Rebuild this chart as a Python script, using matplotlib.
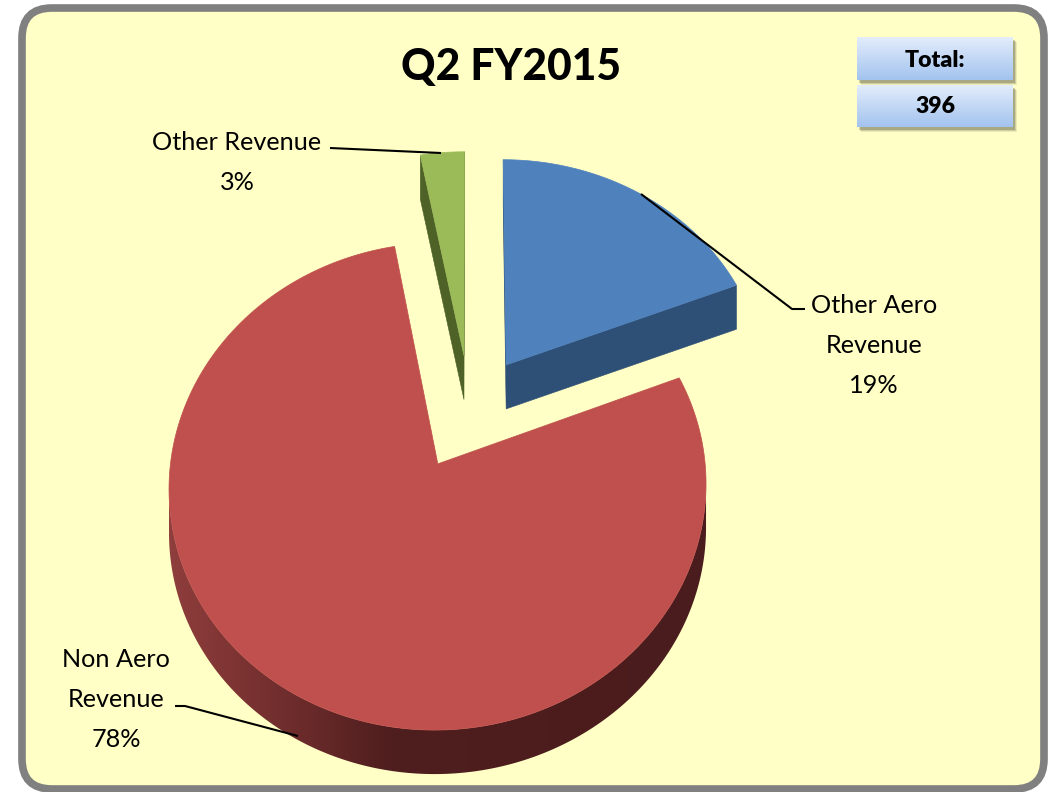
import numpy as np
import matplotlib
matplotlib.use("Agg")
import matplotlib.pyplot as plt
from matplotlib.patches import Polygon, FancyBboxPatch, Rectangle
from matplotlib.colors import to_rgb

# ---------------- data ----------------
categories = ["Other Aero\nRevenue", "Non Aero\nRevenue", "Other Revenue"]
values = [19, 78, 3]          # percent of total, clockwise from 12 o'clock
total_value = 396
title_text = "Q2 FY2015"

# ---------------- figure ----------------
W, H = 1049, 792
fig = plt.figure(figsize=(W / 100, H / 100), dpi=100)
fig.patch.set_facecolor("white")
ax = fig.add_axes([0, 0, 1, 1])
ax.axis("off")

FONT = ["Lato", "DejaVu Sans"]

# background panel with rounded gray border
panel = FancyBboxPatch((22, 8), 1044 - 22, 789 - 8,
                       boxstyle="round,pad=0,rounding_size=30",
                       fc="#FFFFC6", ec="#808080", lw=5.5, zorder=0)
ax.add_patch(panel)

# ---------------- 3D pie (perspective projection) ----------------
CX, CY, S, A, D = 470, 412, 262, 232, 11.0
DEPTH, EXPL = 44, 0.25
top_colors = ["#4F81BD", "#C0504D", "#9BBB59"]
side_colors = ["#2E4F76", "#4C1C1D", "#4E6228"]


def proj(u, v, z=0.0):
    k = 1.0 / (1.0 - v / D)
    return CX + S * u * k, CY + A * v * k + z


fr = np.array(values, dtype=float) / np.sum(values)
bounds = np.concatenate([[0], np.cumsum(fr)]) * 2 * np.pi

slices = []
for i in range(len(values)):
    ts, te = bounds[i], bounds[i + 1]
    mid = (ts + te) / 2
    u0, v0 = EXPL * np.sin(mid), -EXPL * np.cos(mid)
    slices.append((v0, i, ts, te, u0))

slices.sort()
for v0, i, ts, te, u0 in slices:
    n = max(int((te - ts) / (2 * np.pi) * 720), 6)
    th = np.linspace(ts, te, n)
    apex = proj(u0, v0)
    rim = [proj(u0 + np.sin(t), v0 - np.cos(t)) for t in th]
    outline = [apex] + rim
    m = len(outline)
    vis = []
    for j in range(m):
        pa = outline[j]
        pb = outline[(j + 1) % m]
        quad = [pa, pb, (pb[0], pb[1] + DEPTH), (pa[0], pa[1] + DEPTH)]
        xs_ = np.array([q[0] for q in quad])
        ys_ = np.array([q[1] for q in quad])
        area = np.sum(xs_ * np.roll(ys_, -1) - np.roll(xs_, -1) * ys_)
        vis.append(area < 0)
    # contiguous runs of visible wall edges (cyclic)
    if not all(vis):
        start = vis.index(False)
        order = [(start + k) % m for k in range(m)]
        runs, cur = [], []
        for j in order:
            if vis[j]:
                cur.append(j)
            elif cur:
                runs.append(cur)
                cur = []
        if cur:
            runs.append(cur)
        for run in runs:
            pts = [outline[run[0]]] + [outline[(j + 1) % m] for j in run]
            top_pts = pts
            bot_pts = [(p[0], p[1] + DEPTH) for p in pts[::-1]]
            poly = Polygon(top_pts + bot_pts, closed=True, zorder=2)
            if i == 1:
                poly.set_facecolor("none")
                poly.set_edgecolor("none")
                ax.add_patch(poly)
                xs_all = np.array([p[0] for p in top_pts + bot_pts])
                ys_all = np.array([p[1] for p in top_pts + bot_pts])
                x0, x1 = xs_all.min() - 2, xs_all.max() + 2
                y0, y1 = ys_all.min() - 2, ys_all.max() + 2
                gx = np.linspace(x0, x1, 400)
                cs = np.array([to_rgb("#8F3E3C"), to_rgb("#6C2B2B"),
                               to_rgb("#4F1E1E"), to_rgb("#4B1C1D")])
                kx = [x0, 300, 390, x1]
                img = np.stack([np.interp(gx, kx, cs[:, c]) for c in range(3)], axis=-1)
                img = np.repeat(img[None, :, :], 2, axis=0)
                im = ax.imshow(img, extent=(x0, x1, y1, y0), aspect="auto",
                               zorder=2, interpolation="bilinear")
                im.set_clip_path(poly)
            else:
                poly.set_facecolor(side_colors[i])
                poly.set_edgecolor(side_colors[i])
                poly.set_linewidth(0.4)
                ax.add_patch(poly)
    ax.add_patch(Polygon(outline, closed=True, fc=top_colors[i], ec=top_colors[i],
                         lw=0.5, zorder=3))

# ---------------- text helpers ----------------
renderer = fig.canvas.get_renderer()


def fit_size(s, target_w, weight="normal"):
    t = ax.text(0, 0, s, fontsize=20, family=FONT, weight=weight)
    w = t.get_window_extent(renderer).width
    t.remove()
    return 20 * target_w / w


# title
title_fs = fit_size(title_text, 220, 900)
ax.text(511, 80, title_text, fontsize=title_fs, family=FONT, weight=900,
        ha="center", va="baseline", color="black", zorder=6)

# labels
lab_fs = fit_size("Other Revenue", 170)
label_specs = [  # (center x, first baseline y)
    (874, 313),
    (116, 667),
    (237, 150),
]
for (cx, by), cat, val in zip(label_specs, categories, values):
    lines = cat.split("\n") + [f"{val}%"]
    for k, ln in enumerate(lines):
        ax.text(cx, by + 40 * k, ln, fontsize=lab_fs, family=FONT,
                ha="center", va="baseline", color="black", zorder=6)

# leader lines
leaders = [
    [(641, 194), (792, 309), (805, 309)],
    [(175, 706), (185, 706), (298, 736)],
    [(330, 148), (441, 153)],
]
for pts in leaders:
    ax.plot([p[0] for p in pts], [p[1] for p in pts], color="black", lw=1.5,
            solid_capstyle="butt", zorder=7)

# ---------------- total boxes ----------------
def grad_box(x0, y0, x1, y1):
    for off, al in [(5, 0.08), (4, 0.12), (3, 0.18)]:
        ax.add_patch(Rectangle((x0 + off - 1, y0 + off), x1 - x0, y1 - y0,
                               fc="black", alpha=al, ec="none", zorder=4))
    g = np.linspace(0, 1, 60)[:, None, None]
    ct = np.array(to_rgb("#E3EDFB"))
    cb = np.array(to_rgb("#A3C3EF"))
    img = ct * (1 - g) + cb * g
    ax.imshow(img, extent=(x0, x1, y1, y0), aspect="auto", zorder=5,
              interpolation="bilinear")


grad_box(857, 37, 1013, 80)
grad_box(857, 85, 1013, 127)
tot_fs = fit_size("Total:", 60, 800)
ax.text(935, 67, "Total:", fontsize=tot_fs, family=FONT, weight=800,
        ha="center", va="baseline", zorder=6)
ax.text(935, 113, f"{total_value}", fontsize=tot_fs, family=FONT, weight=800,
        ha="center", va="baseline", zorder=6)

ax.set_xlim(0, W)
ax.set_ylim(H, 0)
fig.savefig("out.png", dpi=100, facecolor="white")
